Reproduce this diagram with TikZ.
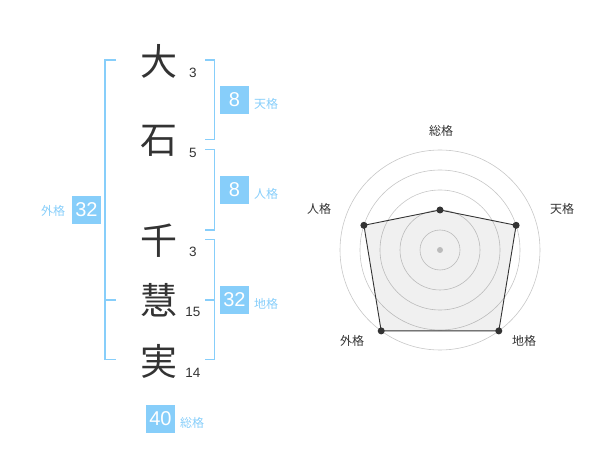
\documentclass[tikz,border=0pt]{standalone}
\usepackage{fontspec}
\setmainfont{Liberation Sans}
\newfontfamily\jp{Noto Sans CJK JP}
\definecolor{sky}{HTML}{87CEFA}
\definecolor{ink}{HTML}{333333}
\begin{document}
\begin{tikzpicture}[x=1pt,y=-1pt,
  kanji/.style={font=\jp\fontsize{37}{37}\selectfont, text=ink, inner sep=0pt},
  stroke/.style={font=\fontsize{13.5}{14}\selectfont, text=ink, inner sep=0pt},
  valbox/.style={fill=sky, text=white, minimum width=29pt, minimum height=28.5pt, inner sep=0pt, font=\fontsize{20}{20}\selectfont},
  kaku/.style={font=\jp\fontsize{12}{12}\selectfont, text=sky, inner sep=0pt},
  brk/.style={draw=sky, line width=1.8pt},
  ring/.style={draw=black!22, line width=0.6pt},
  rlabel/.style={font=\jp\fontsize{12}{12}\selectfont, text=ink, inner sep=0pt},
  pt/.style={circle, fill=ink, inner sep=0pt, minimum size=7pt}]
\useasboundingbox (0,0) rectangle (600,470);
% kanji
\node[kanji] (k1) at (159,61) {大};
\node[kanji] (k2) at (159,141) {石};
\node[kanji] (k3) at (159,241) {千};
\node[kanji] (k4) at (159,300) {慧};
\node[kanji] (k5) at (159,361) {実};
\node[stroke] (s1) at (193,73) {3};
\node[stroke] (s2) at (193,153) {5};
\node[stroke] (s3) at (193,252) {3};
\node[stroke] (s4) at (193,312) {15};
\node[stroke] (s5) at (193,373) {14};
% outer bracket
\coordinate (ga) at (116,60);
\coordinate (gb) at (116,359.5);
\coordinate (gm) at (116,300);
\draw[brk] (ga) -- (105,60) -- (105,359.5) -- (gb);
\draw[brk] (105,300) -- (gm);
\node[valbox] (gv) at (86.5,210) {32};
\node[kaku] (gl) at (53,211) {外格};
% ten
\coordinate (ta) at (205,60);
\coordinate (tb) at (205,139.5);
\draw[brk] (ta) -- (214.5,60) -- (214.5,139.5) -- (tb);
\node[valbox] (tv) at (234.5,100) {8};
\node[kaku] (tl) at (266,104) {天格};
% jin
\coordinate (ja) at (205,149.5);
\coordinate (jb) at (205,230);
\draw[brk] (ja) -- (214.5,149.5) -- (214.5,230) -- (jb);
\node[valbox] (jv) at (234.5,190) {8};
\node[kaku] (jl) at (266,194) {人格};
% chi
\coordinate (ca) at (205,239.5);
\coordinate (cb) at (205,359.5);
\coordinate (cm) at (205,300);
\draw[brk] (ca) -- (214.5,239.5) -- (214.5,359.5) -- (cb);
\draw[brk] (214.5,300) -- (cm);
\node[valbox] (cv) at (234.5,300) {32};
\node[kaku] (cl) at (266,304) {地格};
% sou
\node[valbox] (sv) at (160.5,419) {40};
\node[kaku] (sl) at (192,423) {総格};
% radar
\coordinate (O) at (440,250);
\foreach \r in {20,40,60,80,100} \draw[ring] (O) circle (\r);
\node[circle, fill=black!22, inner sep=0pt, minimum size=6pt] (oc) at (O) {};
\coordinate (q1) at (440,210);
\coordinate (q2) at (516.1,225.3);
\coordinate (q3) at (498.8,330.9);
\coordinate (q4) at (381.2,330.9);
\coordinate (q5) at (363.9,225.3);
\fill[black, fill opacity=0.06] (q1) -- (q2) -- (q3) -- (q4) -- (q5) -- cycle;
\draw[ink, line width=0.9pt] (q1) -- (q2) -- (q3) -- (q4) -- (q5) -- cycle;
\node[pt] (p1) at (q1) {};
\node[pt] (p2) at (q2) {};
\node[pt] (p3) at (q3) {};
\node[pt] (p4) at (q4) {};
\node[pt] (p5) at (q5) {};
\node[rlabel] (r1) at (441,131) {総格};
\node[rlabel] (r2) at (562,209) {天格};
\node[rlabel] (r3) at (524,341) {地格};
\node[rlabel] (r4) at (352,341) {外格};
\node[rlabel] (r5) at (319,209) {人格};
\end{tikzpicture}
\end{document}
